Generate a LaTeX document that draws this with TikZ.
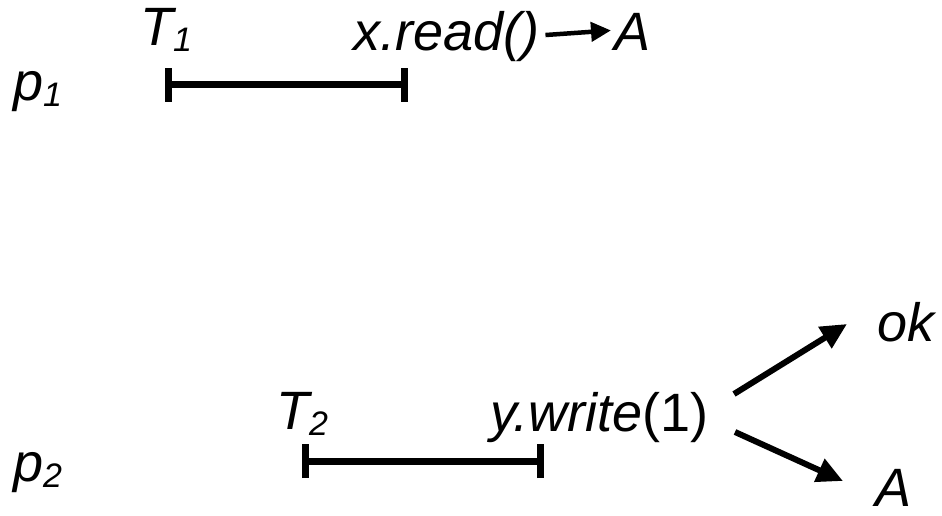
\documentclass[tikz,border=0pt]{standalone}
\usepackage{fontspec}
\setmainfont{Liberation Sans}
\usetikzlibrary{arrows.meta}
\newcommand{\mysub}[1]{\raisebox{-6pt}{\fontsize{34}{36}\selectfont #1}}
\begin{document}
\begin{tikzpicture}[x=1pt,y=-1pt,
  lbl/.style={anchor=base west,inner sep=0pt,font=\fontsize{54}{60}\selectfont\itshape},
  barline/.style={line width=7pt},
  bigarr/.style={line width=6pt,-{Triangle[length=26pt,width=24pt]}},
  smallarr/.style={line width=4.5pt,-{Triangle[length=20pt,width=19pt]}}]
\useasboundingbox (0,0) rectangle (942,516);
% labels
\node[lbl] (p1) at (13,101) {p\mysub{1}};
\node[lbl] (p2) at (13,481) {p\mysub{2}};
\node[lbl] (t1) at (140,46) {T\mysub{1}};
\node[lbl] (t2) at (276,429) {T\mysub{2}};
\node[lbl] (xr) at (353,51) {x.read()};
\node[lbl] (ra) at (614,51) {A};
\node[lbl] (yw) at (490,431) {y.write{\upshape(1)}};
\node[lbl] (ok) at (877,341) {ok};
\node[lbl] (wa) at (875,506) {A};
% bars
\coordinate (b1s) at (168,85);
\coordinate (b1e) at (404,85);
\coordinate (b2s) at (305,461);
\coordinate (b2e) at (540,461);
\draw[barline] (b1s) -- (b1e);
\draw[barline] ([yshift=-17pt]b1s) -- ([yshift=17pt]b1s);
\draw[barline] ([yshift=-17pt]b1e) -- ([yshift=17pt]b1e);
\draw[barline] (b2s) -- (b2e);
\draw[barline] ([yshift=-17pt]b2s) -- ([yshift=17pt]b2s);
\draw[barline] ([yshift=-17pt]b2e) -- ([yshift=17pt]b2e);
% arrows
\draw[smallarr] ([xshift=6pt,yshift=2pt]xr.east) -- ([xshift=-3pt,yshift=2pt]ra.west);
\coordinate (u0) at (734,394);
\coordinate (u1) at (847,324);
\coordinate (d0) at (735,432);
\coordinate (d1) at (843,481);
\draw[bigarr] (u0) -- (u1);
\draw[bigarr] (d0) -- (d1);
\end{tikzpicture}
\end{document}
